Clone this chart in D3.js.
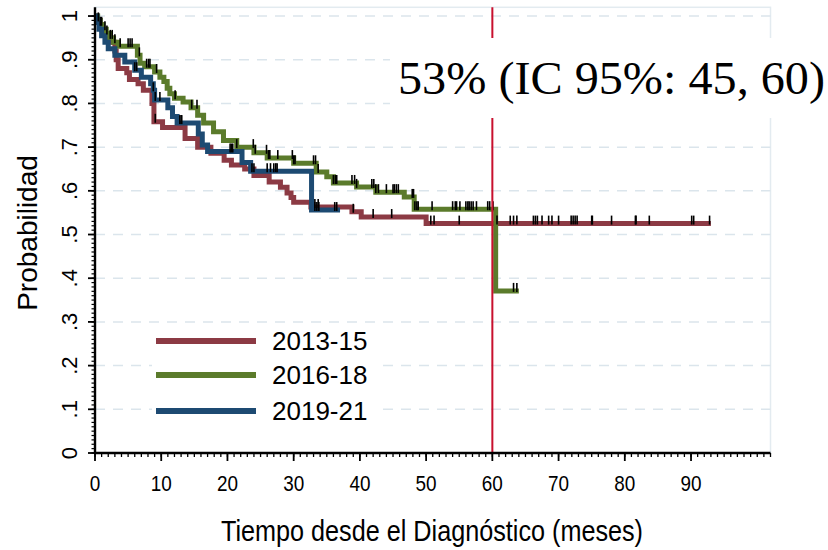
<!DOCTYPE html>
<html><head><meta charset="utf-8">
<script src="https://cdn.jsdelivr.net/npm/d3@7"></script>
<style>html,body{margin:0;padding:0;background:#fff;}svg{display:block;}</style>
</head><body>
<svg id="c" width="828" height="550"></svg>
<script>
// ---- data ----
const seriesNames = ["2013-15", "2016-18", "2019-21"];
const redTimes = [0, 0.3, 0.7, 1.0, 1.5, 2.0, 2.5, 3.0, 3.2, 3.5, 4.8, 5.2, 6.5, 7.3, 8.6, 8.9, 10.2, 13.6, 15.5, 17.5, 19.5, 20.6, 22.6, 24.0, 26.3, 28.0, 29.0, 29.6, 30.0, 32.6, 38.8, 40.2, 50.0, 93];
const redSurv  = [1, 0.99, 0.98, 0.97, 0.96, 0.95, 0.94, 0.92, 0.90, 0.88, 0.87, 0.855, 0.845, 0.83, 0.80, 0.758, 0.745, 0.72, 0.70, 0.686, 0.67, 0.659, 0.65, 0.635, 0.62, 0.608, 0.595, 0.585, 0.574, 0.563, 0.552, 0.54, 0.525, 0.525];
const greenTimes = [0, 0.4, 0.8, 1.2, 1.7, 2.2, 2.8, 3.5, 6.4, 6.8, 7.5, 9.0, 9.8, 10.4, 10.9, 11.3, 12.0, 13.3, 14.5, 15.5, 16.4, 17.9, 19.4, 21.4, 24.0, 26.0, 30.0, 33.4, 35.0, 36.0, 39.5, 42.4, 46.7, 48.2, 60.5, 64];
const greenSurv  = [1, 0.99, 0.98, 0.97, 0.96, 0.95, 0.94, 0.931, 0.91, 0.892, 0.884, 0.872, 0.86, 0.85, 0.835, 0.822, 0.812, 0.803, 0.79, 0.773, 0.755, 0.735, 0.715, 0.70, 0.687, 0.675, 0.663, 0.643, 0.632, 0.618, 0.609, 0.597, 0.586, 0.558, 0.371, 0.371];
const blueTimes = [0, 0.3, 0.6, 1.0, 1.5, 2.0, 3.0, 4.5, 6.0, 7.0, 8.4, 8.8, 9.0, 11.0, 11.7, 12.4, 15.6, 16.2, 17.0, 22.2, 23.5, 32.7, 37];
const blueSurv  = [1, 0.985, 0.97, 0.955, 0.94, 0.925, 0.91, 0.895, 0.876, 0.86, 0.845, 0.83, 0.808, 0.79, 0.77, 0.755, 0.73, 0.705, 0.69, 0.665, 0.645, 0.556, 0.556];
const redCensor = [9.1, 33.2, 33.7, 39, 42, 44.8, 50.7, 51.2, 55, 60.7, 62.7, 63.2, 63.7, 66.2, 66.5, 66.8, 67.5, 68.5, 69.0, 70.0, 71.9, 72.2, 72.5, 72.8, 75.0, 75.1, 78.0, 81.6, 81.7, 83.7, 90.1, 90.4, 92.8];
const greenCensor = [0.5, 0.8, 1.0, 1.5, 1.8, 2.3, 2.6, 3.0, 3.8, 5.0, 5.3, 5.6, 6.7, 7.8, 8.1, 8.3, 9.3, 12.1, 14.6, 15.4, 21.4, 23.9, 24.2, 25.9, 26.2, 26.4, 27.6, 29.8, 30.0, 30.2, 33.0, 33.3, 33.7, 36.0, 36.3, 36.5, 38.8, 39.2, 39.5, 41.8, 42.1, 42.4, 42.8, 44.0, 45.0, 45.2, 45.5, 45.8, 47.9, 48.1, 48.3, 48.6, 48.8, 50.9, 54.0, 54.4, 54.6, 55.1, 56.0, 56.3, 56.5, 56.8, 57.1, 57.6, 59.3, 59.6, 60.1, 63.2, 63.7];
const blueCensor = [6.0, 6.3, 8.8, 9.1, 9.8, 12.8, 13.0, 13.1, 20.4, 20.6, 20.8, 23.7, 24.0, 26.0, 26.5, 27.0, 27.3, 27.5, 33.2, 33.5, 33.8, 36.2, 36.5];
const xTickValues = [0, 10, 20, 30, 40, 50, 60, 70, 80, 90];
const yTickValues = [0, 0.1, 0.2, 0.3, 0.4, 0.5, 0.6, 0.7, 0.8, 0.9, 1];
const yTickLabels = ["0", ".1", ".2", ".3", ".4", ".5", ".6", ".7", ".8", ".9", "1"];
const refTime = 60;
const annotation = "53% (IC 95%: 45, 60)";
const xTitle = "Tiempo desde el Diagnóstico (meses)";
const yTitle = "Probabilidad";

// ---- drawing ----
const colors = ["#8c3a44", "#5b7b2b", "#1d4a72"];
const svg = d3.select("#c");
const x = d3.scaleLinear().domain([0, 102]).range([95, 770.5]);
const y = d3.scaleLinear().domain([0, 1.02]).range([453, 7.3]);

// frame
svg.append("rect").attr("x", x(0)).attr("y", y(1.02)).attr("width", x(102) - x(0)).attr("height", y(0) - y(1.02))
  .attr("fill", "none").attr("stroke", "#e3ebf0").attr("stroke-width", 1.5);

// grid
svg.append("g").selectAll("line").data(yTickValues.filter(d => d > 0)).join("line")
  .attr("x1", x(0)).attr("x2", x(102)).attr("y1", d => y(d)).attr("y2", d => y(d))
  .attr("stroke", "#dbe5ec").attr("stroke-width", 1.5).attr("stroke-dasharray", "10,8");

const series = [
  {t: redTimes, s: redSurv, c: redCensor},
  {t: greenTimes, s: greenSurv, c: greenCensor},
  {t: blueTimes, s: blueSurv, c: blueCensor}
];
const line = d3.line().x(d => x(d[0])).y(d => y(d[1])).curve(d3.curveStepAfter);
series.forEach((sr, i) => {
  const pts = sr.t.map((t, j) => [t, sr.s[j]]);
  svg.append("path").attr("d", line(pts)).attr("fill", "none")
    .attr("stroke", colors[i]).attr("stroke-width", 5).attr("stroke-linejoin", "miter").attr("stroke-linecap", "butt");
});
const bis = d3.bisector(d => d).right;
series.forEach((sr) => {
  svg.append("g").selectAll("line").data(sr.c).join("line")
    .attr("x1", d => x(d)).attr("x2", d => x(d))
    .attr("y1", d => y(sr.s[Math.max(0, bis(sr.t, d) - 1)]) - 8)
    .attr("y2", d => y(sr.s[Math.max(0, bis(sr.t, d) - 1)]) + 1)
    .attr("stroke", "#000").attr("stroke-width", 1.6);
});

// reference line
svg.append("line").attr("x1", x(refTime)).attr("x2", x(refTime)).attr("y1", y(1.02)).attr("y2", y(0))
  .attr("stroke", "#c8102e").attr("stroke-width", 2);

// annotation box
svg.append("rect").attr("x", 390).attr("y", 38).attr("width", 438).attr("height", 80).attr("fill", "#fff");
svg.append("text").attr("x", 398).attr("y", 94).text(annotation)
  .attr("font-family", "'Liberation Serif','Times New Roman',serif").attr("font-size", 46)
  .attr("textLength", 427).attr("lengthAdjust", "spacingAndGlyphs").attr("fill", "#000");

// legend
const lg = svg.append("g");
lg.append("rect").attr("x", 152).attr("y", 327).attr("width", 226).attr("height", 98).attr("fill", "#fff");
const legY = [341, 375, 411];
seriesNames.forEach((n, i) => {
  lg.append("line").attr("x1", 156).attr("x2", 256).attr("y1", legY[i]).attr("y2", legY[i])
    .attr("stroke", colors[i]).attr("stroke-width", 6);
  lg.append("text").attr("x", 272).attr("y", legY[i] + 9).text(n)
    .attr("font-family", "'Liberation Sans',Arial,sans-serif").attr("font-size", 26).attr("fill", "#000");
});

// axes
const ax = svg.append("g").attr("stroke", "#000");
ax.append("line").attr("x1", x(0) - 1).attr("x2", x(102)).attr("y1", y(0)).attr("y2", y(0)).attr("stroke-width", 2.4);
ax.append("line").attr("x1", x(0)).attr("x2", x(0)).attr("y1", y(0) + 1).attr("y2", y(1.02)).attr("stroke-width", 2.4);
ax.selectAll(".xm").data(d3.range(0, 103)).join("line")
  .attr("x1", d => x(d)).attr("x2", d => x(d)).attr("y1", y(0)).attr("y2", y(0) + 4).attr("stroke-width", 1.3);
ax.selectAll(".xM").data(xTickValues).join("line")
  .attr("x1", d => x(d)).attr("x2", d => x(d)).attr("y1", y(0)).attr("y2", y(0) + 8).attr("stroke-width", 1.8);
ax.selectAll(".ym").data(d3.range(0, 101).map(d => d / 100)).join("line")
  .attr("x1", x(0)).attr("x2", x(0) - 3.5).attr("y1", d => y(d)).attr("y2", d => y(d)).attr("stroke-width", 1.2);
ax.selectAll(".yM").data(yTickValues).join("line")
  .attr("x1", x(0)).attr("x2", x(0) - 7).attr("y1", d => y(d)).attr("y2", d => y(d)).attr("stroke-width", 1.8);

const font = "'Liberation Sans',Arial,sans-serif";
svg.append("g").selectAll("text").data(xTickValues).join("text")
  .attr("transform", d => `translate(${x(d)},491) scale(0.86,1)`)
  .attr("text-anchor", "middle").attr("font-family", font).attr("font-size", 22).text(d => d);
svg.append("g").selectAll("text").data(yTickValues).join("text")
  .attr("transform", d => `translate(77,${y(d)}) rotate(-90)`)
  .attr("text-anchor", "middle").attr("font-family", font).attr("font-size", 22)
  .text((d, i) => yTickLabels[i]);

svg.append("text").attr("x", 432).attr("y", 541).attr("text-anchor", "middle")
  .attr("font-family", font).attr("font-size", 29).attr("textLength", 422).attr("lengthAdjust", "spacingAndGlyphs")
  .text(xTitle);
svg.append("text").attr("transform", "translate(37,233) rotate(-90)").attr("text-anchor", "middle")
  .attr("font-family", font).attr("font-size", 28).text(yTitle);
</script>
</body></html>
